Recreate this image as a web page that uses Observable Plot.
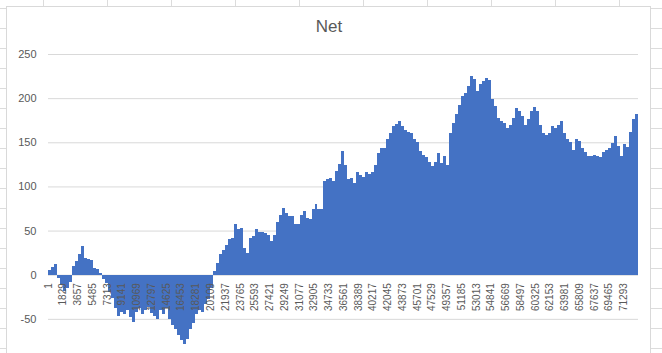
<!DOCTYPE html>
<html>
<head>
<meta charset="utf-8">
<script src="https://cdn.jsdelivr.net/npm/d3@7"></script>
<script src="https://cdn.jsdelivr.net/npm/@observablehq/plot@0.6"></script>
<style>
  html, body { margin: 0; padding: 0; width: 662px; height: 353px; overflow: hidden; }
  body {
    background-color: #fff;
    background-image:
      repeating-linear-gradient(to bottom, transparent 0px, transparent 8px, #dcdcdc 8px, #dcdcdc 9px, transparent 9px, transparent 20px),
      repeating-linear-gradient(to right, transparent 0px, transparent 43px, #dcdcdc 43px, #dcdcdc 44px, transparent 44px, transparent 64px);
    font-family: "Liberation Sans", Arial, sans-serif;
    position: relative;
  }
  #box {
    position: absolute; left: 6px; top: 6px; width: 645px; height: 400px;
    background: #fff; border: 1px solid #d9d9d9; box-sizing: border-box;
  }
  #title {
    position: absolute; left: 6px; width: 646px; top: 17px; text-align: center;
    font-size: 17px; color: #595959; font-family: "Liberation Sans", Arial, sans-serif;
  }
  #chart { position: absolute; left: 0; top: 0; }
</style>
</head>
<body>
<div id="box"></div>
<div id="title">Net</div>
<div id="chart"></div>
<script>
const rowsPerSample = 371;
const totalRows = 73100;
const net = [
  5, 9, 12, -4, -12, -18, -15, -8, 10, 16,
  24, 32, 19, 18, 17, 8, 6, 2, -5, -9,
  -20, -26, -38, -47, -42, -44, -40, -48, -54, -42,
  -38, -44, -40, -37, -43, -47, -50, -40, -45, -38,
  -50, -57, -62, -68, -74, -79, -73, -62, -55, -45,
  -40, -42, -33, -27, -15, 4, 13, 24, 28, 34,
  41, 42, 58, 52, 53, 30, 25, 42, 44, 52,
  48, 48, 47, 45, 38, 45, 60, 68, 76, 70,
  67, 66, 57, 58, 68, 72, 64, 63, 75, 80,
  75, 74, 106, 108, 110, 106, 117, 125, 140, 124,
  108, 110, 104, 116, 113, 111, 116, 114, 116, 124,
  138, 143, 144, 154, 161, 168, 171, 174, 168, 164,
  162, 160, 154, 150, 140, 136, 133, 128, 123, 128,
  138, 127, 134, 124, 160, 172, 182, 192, 202, 206,
  214, 225, 222, 208, 216, 219, 223, 220, 199, 191,
  178, 174, 172, 166, 170, 178, 189, 186, 180, 170,
  176, 186, 190, 186, 170, 160, 158, 160, 168, 166,
  170, 174, 160, 154, 150, 141, 154, 151, 144, 139,
  134, 134, 136, 134, 133, 139, 141, 144, 149, 157,
  146, 134, 148, 145, 162, 176, 182
];
const tickRows = [1, 1829, 3657, 5485, 7313, 9141, 10969, 12797, 14625, 16453,
  18281, 20109, 21937, 23765, 25593, 27421, 29249, 31077, 32905, 34733,
  36561, 38389, 40217, 42045, 43873, 45701, 47529, 49357, 51185, 53013,
  54841, 56669, 58497, 60325, 62153, 63981, 65809, 67637, 69465, 71293];
const yGrid = [-100, -50, 0, 50, 100, 150, 200, 250];
const yLabels = [-50, 0, 50, 100, 150, 200, 250];

const bars = net.map((v, i) => ({
  r1: 0.5 + i * rowsPerSample,
  r2: 0.5 + (i + 1) * rowsPerSample,
  v
}));

const plot = Plot.plot({
  width: 662,
  height: 380,
  marginLeft: 48,
  marginRight: 24,
  marginTop: 54,
  marginBottom: 17,
  style: { background: "transparent", color: "#595959", fontFamily: "Liberation Sans, Arial, sans-serif", fontSize: "11px", overflow: "visible" },
  x: { domain: [0.5, totalRows + 0.5], axis: null },
  y: { domain: [-100, 250], axis: null },
  marks: [
    Plot.ruleY(yGrid, { stroke: "#d9d9d9", strokeWidth: 1 }),
    Plot.rectY(bars, { x1: "r1", x2: "r2", y1: 0, y2: "v", fill: "#4472c4", inset: 0, shapeRendering: "crispEdges" }),
    Plot.text(yLabels, { x: 0.5, y: d => d, text: d => String(d), textAnchor: "end", dx: -12, fill: "#595959", fontSize: 11 }),
    Plot.text(tickRows, { x: d => d, y: 0, text: d => String(d), rotate: -90, textAnchor: "end", dy: 8, fill: "#595959", fontSize: 10 })
  ]
});
document.getElementById("chart").appendChild(plot);
</script>
</body>
</html>
